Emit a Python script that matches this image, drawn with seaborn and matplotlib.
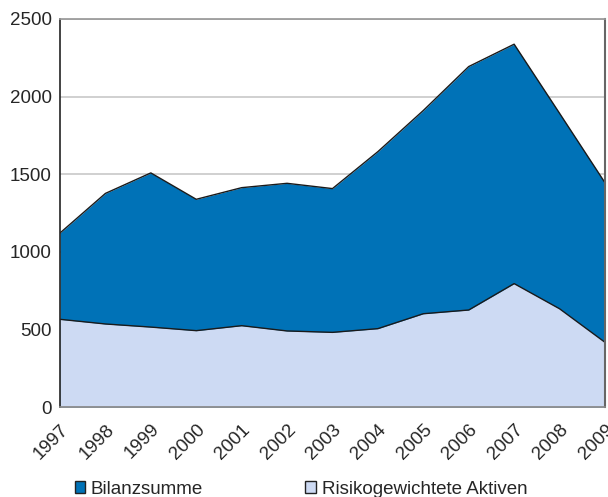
import numpy as np
import pandas as pd
import matplotlib
matplotlib.use("Agg")
import matplotlib.pyplot as plt
import seaborn as sns
from matplotlib.patches import Patch

# Data
years = [1997, 1998, 1999, 2000, 2001, 2002, 2003, 2004, 2005, 2006, 2007, 2008, 2009]
bilanzsumme = [1121, 1376, 1508, 1338, 1413, 1441, 1407, 1645, 1910, 2193, 2337, 1892, 1445]
risiko_aktiven = [565, 535, 515, 492, 524, 490, 481, 505, 601, 625, 795, 633, 417]
y_ticks = [0, 500, 1000, 1500, 2000, 2500]

dark_blue = "#0072b7"
light_blue = "#cddaf3"

df = pd.DataFrame({"Jahr": years, "Bilanzsumme": bilanzsumme,
                   "Risikogewichtete Aktiven": risiko_aktiven})

sns.set_theme(style="white")
plt.rcParams["font.family"] = ["Liberation Sans", "DejaVu Sans"]

fig = plt.figure(figsize=(6.08, 4.97), dpi=100)
ax = fig.add_axes([0.0987, 0.181, 0.8963, 0.781])

# grid lines behind the areas
for v in y_ticks[1:]:
    ax.axhline(v, color="#c8c8c8", lw=1.2, zorder=0)

ax.fill_between(df["Jahr"], df["Bilanzsumme"], color=dark_blue, zorder=1, lw=0)
sns.lineplot(data=df, x="Jahr", y="Bilanzsumme", color="#1a1a1a", lw=1.0, ax=ax, zorder=2)
ax.fill_between(df["Jahr"], df["Risikogewichtete Aktiven"], color=light_blue, zorder=3, lw=0)
sns.lineplot(data=df, x="Jahr", y="Risikogewichtete Aktiven", color="#1a1a1a", lw=1.0, ax=ax, zorder=4)

ax.set_xlim(years[0], years[-1])
ax.set_ylim(0, 2500)
ax.set_xticks(years)
ax.set_xticklabels([str(y) for y in years], rotation=45, ha="right",
                   rotation_mode="anchor", fontsize=13.5)
ax.set_yticks(y_ticks)
ax.set_yticklabels([str(v) for v in y_ticks], fontsize=13.5)
ax.set_xlabel("")
ax.set_ylabel("")
ax.tick_params(axis="x", direction="out", length=5, color="#999999", width=1, pad=5)
ax.tick_params(axis="y", direction="out", length=4, color="#333333", width=1, pad=2)

ax.spines["left"].set_color("#222222")
ax.spines["left"].set_linewidth(1.2)
ax.spines["bottom"].set_color("#888888")
ax.spines["top"].set_color("#999999")
ax.spines["right"].set_color("#666666")
ax.spines["right"].set_linewidth(1.5)
for s in ax.spines.values():
    s.set_zorder(5)

handles = [Patch(facecolor=dark_blue, edgecolor="#222222", lw=1.0, label="Bilanzsumme"),
           Patch(facecolor=light_blue, edgecolor="#222222", lw=1.0, label="Risikogewichtete Aktiven")]
fig.legend(handles=handles, loc="center left", bbox_to_anchor=(0.095, 0.016), ncol=2,
           frameon=False, fontsize=13.5, handlelength=0.55, handleheight=0.55,
           handletextpad=0.32, columnspacing=5.45)

fig.savefig("out.png", dpi=100)
